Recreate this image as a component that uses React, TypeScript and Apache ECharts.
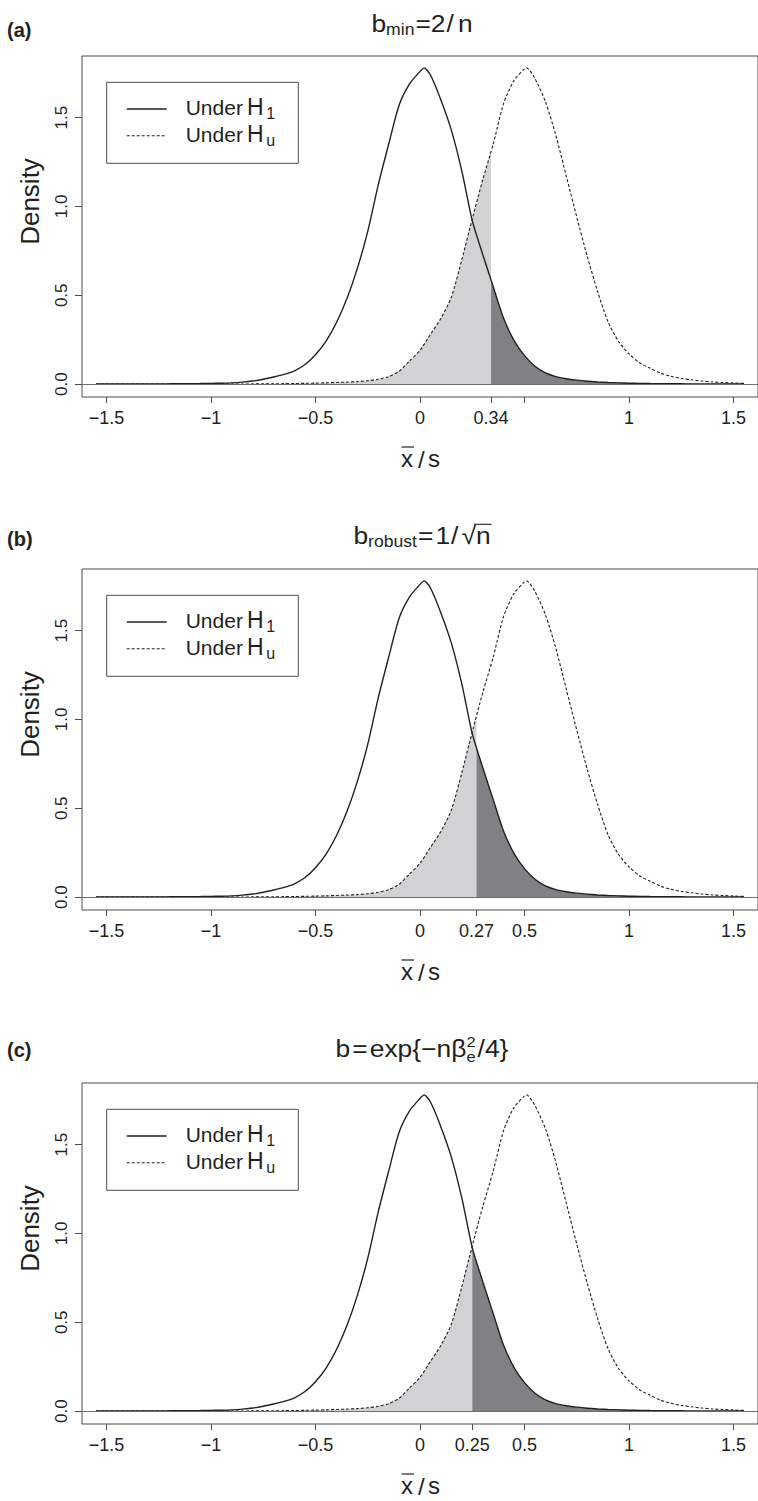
import React, { useEffect, useRef } from "react";
import * as echarts from "echarts";

// ---- data (density of x̄/s) ----
const h1X = [-1.55, -1.5, -1.45, -1.4, -1.35, -1.3, -1.25, -1.2, -1.15, -1.1, -1.05, -1.0, -0.95, -0.9, -0.85, -0.8, -0.75, -0.7, -0.65, -0.6, -0.55, -0.5, -0.45, -0.4, -0.35, -0.3, -0.25, -0.2, -0.15, -0.1, -0.05, 0.0, 0.02, 0.05, 0.1, 0.15, 0.2, 0.25, 0.3, 0.35, 0.4, 0.45, 0.5, 0.55, 0.6, 0.65, 0.7, 0.75, 0.8, 0.85, 0.9, 0.95, 1.0, 1.05, 1.1, 1.15, 1.2, 1.25, 1.3, 1.35, 1.4, 1.45, 1.5, 1.55];
const h1Y = [0.0005, 0.0005, 0.0006, 0.0007, 0.0008, 0.001, 0.0012, 0.0015, 0.002, 0.0025, 0.003, 0.004, 0.005, 0.007, 0.011, 0.017, 0.027, 0.04, 0.055, 0.075, 0.11, 0.165, 0.24, 0.345, 0.48, 0.65, 0.86, 1.12, 1.35, 1.57, 1.69, 1.76, 1.78, 1.74, 1.6, 1.43, 1.2, 0.92, 0.73, 0.55, 0.37, 0.245, 0.16, 0.1, 0.063, 0.042, 0.03, 0.022, 0.016, 0.012, 0.009, 0.007, 0.005, 0.004, 0.003, 0.0025, 0.002, 0.0015, 0.001, 0.001, 0.0008, 0.0006, 0.0005, 0.0004];
const huX = [-1.55, -1.5, -1.45, -1.4, -1.35, -1.3, -1.25, -1.2, -1.15, -1.1, -1.05, -1.0, -0.95, -0.9, -0.85, -0.8, -0.75, -0.7, -0.65, -0.6, -0.55, -0.5, -0.45, -0.4, -0.35, -0.3, -0.25, -0.2, -0.15, -0.1, -0.05, 0.0, 0.05, 0.1, 0.15, 0.2, 0.25, 0.3, 0.35, 0.4, 0.45, 0.5, 0.51, 0.55, 0.6, 0.65, 0.7, 0.75, 0.8, 0.85, 0.9, 0.95, 1.0, 1.05, 1.1, 1.15, 1.2, 1.25, 1.3, 1.35, 1.4, 1.45, 1.5, 1.55];
const huY = [0, 0, 0, 0, 0, 0, 0, 0, 0.0001, 0.0001, 0.0002, 0.0003, 0.0004, 0.0005, 0.0007, 0.001, 0.0013, 0.0018, 0.0025, 0.0033, 0.0043, 0.0055, 0.007, 0.009, 0.011, 0.014, 0.019, 0.027, 0.042, 0.072, 0.13, 0.19, 0.28, 0.37, 0.49, 0.7, 0.93, 1.15, 1.35, 1.58, 1.71, 1.775, 1.78, 1.72, 1.59, 1.4, 1.17, 0.94, 0.72, 0.52, 0.35, 0.24, 0.17, 0.12, 0.09, 0.062, 0.044, 0.032, 0.024, 0.017, 0.012, 0.009, 0.006, 0.004];

const cutoffs = [0.34, 0.27, 0.25];
const panelTags = ["(a)", "(b)", "(c)"];
const xTickValues = [-1.5, -1, -0.5, 0, 0.5, 1, 1.5];
const hiddenXLabels = [[0.5], [], []];
const yTickValues = [0, 0.5, 1, 1.5];
const legendMain = ["Under", "Under"];
const legendSub = ["1", "u"];

// ---- style / layout ----
const FONT = '"Liberation Sans", Arial, Helvetica, sans-serif';
const INK = "#231f20";
const LIGHT = "#d1d2d4";
const DARK = "#808184";
const FRAME = "#4d4d4f";
const GRID_TOPS = [56, 569, 1083];
const GRID_H = 341;
const GRID_LEFT = 82;
const X_MIN = -1.617;
const X_MAX = 1.617;
const Y_MIN = -0.0727;
const Y_MAX = 1.8471;
const TITLE_BASE = [31.5, 543.5, 1056.7];
const TAG_BASE = [37, 545.7, 1056.7];
const TITLE_SX = 1.1;
const MAIN = 24;
const SUB = 16;

function interp(xs: number[], ys: number[], x: number): number {
  for (let i = 0; i < xs.length - 1; i++) {
    if (x >= xs[i] && x <= xs[i + 1]) {
      const t = (x - xs[i]) / (xs[i + 1] - xs[i]);
      return ys[i] + t * (ys[i + 1] - ys[i]);
    }
  }
  return 0;
}

function fmtX(v: number): string {
  const a = Math.abs(v);
  const s = String(Math.round(a * 100) / 100);
  return (v < 0 ? "\u2212" : "") + s;
}

let measureCtx: CanvasRenderingContext2D | null = null;
function textW(t: string, size: number, weight = "normal"): number {
  if (!measureCtx) measureCtx = document.createElement("canvas").getContext("2d");
  if (!measureCtx) return t.length * size * 0.55;
  measureCtx.font = `${weight} ${size}px ${FONT}`;
  return measureCtx.measureText(t).width;
}

function txt(t: string, x: number, baseline: number, size: number, opts: any = {}) {
  const align = opts.align || "left";
  const el: any = {
    type: "text",
    x,
    y: baseline - 0.35 * size,
    silent: true,
    style: {
      text: t,
      font: `${opts.weight || "normal"} ${size}px ${FONT}`,
      fill: opts.fill || INK,
      align,
      textAlign: align,
      verticalAlign: "middle",
      textVerticalAlign: "middle",
    },
  };
  if (opts.sx) el.scaleX = opts.sx;
  return el;
}

type Piece = { t: string; s: number; dy?: number; gap?: number; noAdvance?: boolean; over?: boolean };

function layoutPieces(pieces: Piece[], cx: number, baseline: number, sx: number) {
  const widths = pieces.map((p) => textW(p.t, p.s) * sx);
  let total = 0;
  pieces.forEach((p, i) => {
    if (!p.noAdvance) total += widths[i] + (p.gap || 0);
  });
  let x = cx - total / 2;
  const els: any[] = [];
  pieces.forEach((p, i) => {
    els.push(txt(p.t, x, baseline + (p.dy || 0), p.s, { sx }));
    if (p.over) {
      const yb = baseline - p.s * 0.8;
      els.push({ type: "line", silent: true, shape: { x1: x - 2, y1: yb, x2: x + widths[i] + 1, y2: yb }, style: { stroke: INK, lineWidth: 1.1 } });
    }
    if (!p.noAdvance) x += widths[i] + (p.gap || 0);
  });
  return els;
}

const titlePieces: Piece[][] = [
  [
    { t: "b", s: MAIN },
    { t: "min", s: SUB, dy: 4, gap: 1 },
    { t: "=2", s: MAIN, gap: 1 },
    { t: "/", s: MAIN, gap: 4 },
    { t: "n", s: MAIN },
  ],
  [
    { t: "b", s: MAIN },
    { t: "robust", s: SUB, dy: 4, gap: 1 },
    { t: "=", s: MAIN, gap: 2 },
    { t: "1", s: MAIN, gap: 1 },
    { t: "/", s: MAIN, gap: 3 },
    { t: "\u221A", s: MAIN },
    { t: "n", s: MAIN, over: true },
  ],
  [
    { t: "b", s: MAIN, gap: 2 },
    { t: "=", s: MAIN, gap: 2 },
    { t: "exp{", s: MAIN },
    { t: "\u2212n", s: MAIN },
    { t: "\u03B2", s: MAIN },
    { t: "2", s: 15, dy: -10, noAdvance: true },
    { t: "e", s: 15, dy: 5, gap: 2 },
    { t: "/4}", s: MAIN },
  ],
];

export default function App() {
  const ref = useRef<HTMLDivElement>(null);
  useEffect(() => {
    if (!ref.current) return;
    const chart = echarts.init(ref.current, null, { renderer: "svg" });

    const grids: any[] = [];
    const xAxes: any[] = [];
    const yAxes: any[] = [];
    const series: any[] = [];
    const graphics: any[] = [];

    const h1Pairs = h1X.map((x, i) => [x, h1Y[i]]);
    const huPairs = huX.map((x, i) => [x, huY[i]]);

    cutoffs.forEach((cut, i) => {
      const top = GRID_TOPS[i];
      const bottom = top + GRID_H;
      grids.push({
        left: GRID_LEFT,
        right: -5,
        top,
        height: GRID_H,
        show: true,
        borderColor: FRAME,
        borderWidth: 1,
        backgroundColor: "transparent",
      });
      const ticks = [...xTickValues, cut].sort((a, b) => a - b);
      const labels = ticks.filter((v) => !hiddenXLabels[i].includes(v));
      xAxes.push({
        type: "value",
        gridIndex: i,
        position: "bottom",
        min: X_MIN,
        max: X_MAX,
        axisLine: { show: false, onZero: false },
        splitLine: { show: false },
        axisTick: { show: true, length: 6, lineStyle: { color: FRAME, width: 1 }, customValues: ticks },
        axisLabel: {
          customValues: labels,
          formatter: (v: number) => fmtX(v),
          fontSize: 18,
          fontFamily: FONT,
          color: INK,
          margin: 12,
        },
      });
      yAxes.push({
        type: "value",
        gridIndex: i,
        position: "left",
        min: Y_MIN,
        max: Y_MAX,
        axisLine: { show: false, onZero: false },
        splitLine: { show: false },
        axisTick: { show: true, length: 7, lineStyle: { color: FRAME, width: 1 }, customValues: yTickValues },
        axisLabel: {
          customValues: yTickValues,
          formatter: (v: number) => v.toFixed(1),
          rotate: 90,
          fontSize: 17,
          fontFamily: FONT,
          color: INK,
          margin: 12,
        },
      });

      const lightData = huPairs.filter((p) => p[0] < cut);
      lightData.push([cut, interp(huX, huY, cut)]);
      const darkData: number[][] = [[cut, interp(h1X, h1Y, cut)]];
      h1Pairs.forEach((p) => {
        if (p[0] > cut) darkData.push(p);
      });

      series.push({
        type: "line",
        xAxisIndex: i,
        yAxisIndex: i,
        data: lightData,
        symbol: "none",
        smooth: 0.25,
        silent: true,
        lineStyle: { width: 0, color: LIGHT },
        areaStyle: { color: LIGHT, opacity: 1 },
        z: 1,
      });
      series.push({
        type: "line",
        xAxisIndex: i,
        yAxisIndex: i,
        data: darkData,
        symbol: "none",
        smooth: 0.25,
        silent: true,
        lineStyle: { width: 0, color: DARK },
        areaStyle: { color: DARK, opacity: 1 },
        z: 1,
      });
      series.push({
        name: "Under H1",
        type: "line",
        xAxisIndex: i,
        yAxisIndex: i,
        data: h1Pairs,
        symbol: "none",
        smooth: 0.25,
        lineStyle: { width: 1.4, color: INK, type: "solid" },
        z: 3,
        markLine: {
          silent: true,
          symbol: ["none", "none"],
          label: { show: false },
          lineStyle: { color: "#6d6e71", width: 1, type: "solid" },
          data: [{ yAxis: 0 }],
        },
      });
      series.push({
        name: "Under Hu",
        type: "line",
        xAxisIndex: i,
        yAxisIndex: i,
        data: huPairs,
        symbol: "none",
        smooth: 0.25,
        lineStyle: { width: 1.1, color: INK, type: [3, 2] },
        z: 3,
      });

      // panel tag
      graphics.push(txt(panelTags[i], 7, TAG_BASE[i], 20, { weight: "bold" }));
      // title
      graphics.push(...layoutPieces(titlePieces[i], 422, TITLE_BASE[i], TITLE_SX));
      // y axis title
      graphics.push({
        type: "text",
        x: 39 - 0.35 * 26,
        y: top + GRID_H / 2 - 25,
        rotation: Math.PI / 2,
        silent: true,
        style: {
          text: "Density",
          font: `normal 26px ${FONT}`,
          fill: INK,
          align: "center",
          textAlign: "center",
          verticalAlign: "middle",
          textVerticalAlign: "middle",
        },
      });
      // x axis title  x̄/s
      const xb = bottom + 70;
      graphics.push(txt("x", 401, xb, 24));
      graphics.push({ type: "line", silent: true, shape: { x1: 401.5, y1: bottom + 50, x2: 414, y2: bottom + 50 }, style: { stroke: INK, lineWidth: 1.2 } });
      graphics.push(txt("/", 418, xb + 1, 24));
      graphics.push(txt("s", 428, xb, 24));
      // legend
      const lx = 106.7;
      const ly = top + 26.3;
      graphics.push({ type: "rect", silent: true, shape: { x: lx, y: ly, width: 191.6, height: 81 }, style: { fill: "#fff", stroke: FRAME, lineWidth: 1 }, z: 10 });
      [0, 1].forEach((k) => {
        const yLine = ly + 26.7 + k * 26.7;
        const base = ly + 32.7 + k * 26.7;
        graphics.push({
          type: "line",
          silent: true,
          z: 11,
          shape: { x1: lx + 20, y1: yLine, x2: lx + 60, y2: yLine },
          style: { stroke: INK, lineWidth: k === 0 ? 1.3 : 1.1, lineDash: k === 0 ? null : [3, 2] },
        });
        const t1 = txt(legendMain[k], lx + 79, base, 21);
        const t2 = txt("H", lx + 140.3, base, 23);
        const t3 = txt(legendSub[k], lx + 159.5, base + 4, 16);
        [t1, t2, t3].forEach((e: any) => {
          e.z = 11;
          graphics.push(e);
        });
      });
    });

    chart.setOption({
      animation: false,
      backgroundColor: "#ffffff",
      textStyle: { fontFamily: FONT },
      grid: grids,
      xAxis: xAxes,
      yAxis: yAxes,
      series,
      graphic: { elements: graphics },
    });
    return () => chart.dispose();
  }, []);
  return (
    <div
      ref={ref}
      style={{ position: "absolute", left: 0, top: 0, width: 758, height: 1501, background: "#fff" }}
    />
  );
}
